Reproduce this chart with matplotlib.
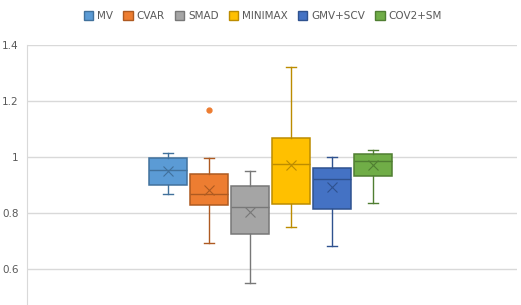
import matplotlib
matplotlib.use('Agg')
from matplotlib import pyplot as plt
from matplotlib.patches import Patch

names = ['MV', 'CVAR', 'SMAD', 'MINIMAX', 'GMV+SCV', 'COV2+SM']
whis_low = [0.867, 0.692, 0.549, 0.749, 0.681, 0.835]
q1 = [0.899, 0.827, 0.724, 0.831, 0.813, 0.931]
med = [0.952, 0.867, 0.820, 0.974, 0.921, 0.985]
means = [0.949, 0.882, 0.802, 0.970, 0.893, 0.970]
q3 = [0.995, 0.938, 0.895, 1.067, 0.960, 1.012]
whis_high = [1.015, 0.995, 0.951, 1.320, 1.001, 1.024]
outliers = [[], [1.168], [], [], [], []]

fill = ['#5B9BD5', '#ED7D31', '#A5A5A5', '#FFC000', '#4472C4', '#70AD47']
edge = ['#41719C', '#AE5A21', '#787878', '#BC8C00', '#2F528F', '#507E32']

fig = plt.figure(figsize=(5.21, 3.05), dpi=100)
ax = fig.add_axes([27 / 521, 0, 490 / 521, 1 - 45 / 305])

for i in range(len(names)):
    st = [{'whislo': whis_low[i], 'q1': q1[i], 'med': med[i], 'q3': q3[i],
           'whishi': whis_high[i], 'mean': means[i], 'fliers': outliers[i]}]
    ax.bxp(st, positions=[i], widths=0.927, patch_artist=True, showmeans=True,
           boxprops=dict(facecolor=fill[i], edgecolor=edge[i], linewidth=1.1),
           medianprops=dict(color=edge[i], linewidth=1.0),
           whiskerprops=dict(color=edge[i], linewidth=1.0),
           capprops=dict(color=edge[i], linewidth=1.0),
           capwidths=0.26,
           meanprops=dict(marker='x', markeredgecolor=edge[i], markersize=7, markeredgewidth=0.8),
           flierprops=dict(marker='o', markerfacecolor=fill[i], markeredgecolor=fill[i], markersize=3.5),
           zorder=3)

ax.set_xlim(-3.44, 8.51)
ax.set_ylim(0.471, 1.4)
ax.set_yticks([0.6, 0.8, 1.0, 1.2, 1.4])
ax.set_yticklabels(['0.6', '0.8', '1', '1.2', '1.4'])
ax.set_xticks([])
ax.yaxis.grid(True, color='#D9D9D9', linewidth=1)
ax.set_axisbelow(True)
for s in ['top', 'right', 'bottom']:
    ax.spines[s].set_visible(False)
ax.spines['left'].set_color('#D9D9D9')
ax.tick_params(axis='y', length=0, labelsize=7.5, labelcolor='#595959', pad=6)

handles = [Patch(facecolor=fill[i], edgecolor=edge[i], label=names[i]) for i in range(len(names))]
fig.legend(handles=handles, loc='center', bbox_to_anchor=(263 / 521, 1 - 16 / 305), ncol=6,
           frameon=False, fontsize=7.5, handlelength=0.9, handleheight=0.9, handletextpad=0.4,
           columnspacing=0.95, labelcolor='#595959')

fig.savefig('out.png', dpi=100)
